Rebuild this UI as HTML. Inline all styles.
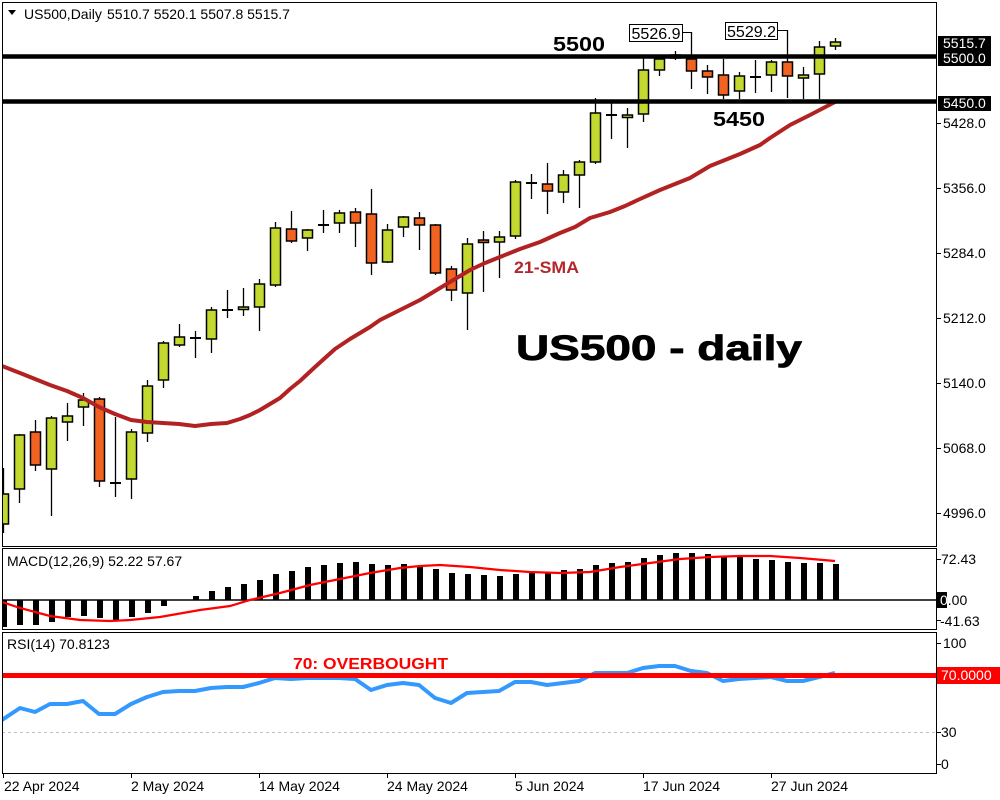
<!DOCTYPE html>
<html><head><meta charset="utf-8"><style>
html,body{margin:0;padding:0;background:#fff;}
svg{display:block;}
text{font-family:"Liberation Sans",Arial,sans-serif;}
</style></head><body>
<svg width="1000" height="800" viewBox="0 0 1000 800" xmlns="http://www.w3.org/2000/svg">
<rect width="1000" height="800" fill="#fff"/>
<defs>
<clipPath id="mc"><rect x="3" y="3" width="933" height="543"/></clipPath>
<clipPath id="dc"><rect x="3" y="549" width="933" height="80"/></clipPath>
<clipPath id="rc"><rect x="3" y="633" width="933" height="140"/></clipPath>
</defs>

<!-- panels -->
<rect x="2.5" y="2.5" width="934" height="544" fill="none" stroke="#000" stroke-width="1"/>
<rect x="2.5" y="548.5" width="934" height="81" fill="none" stroke="#000" stroke-width="1"/>
<rect x="2.5" y="632.5" width="934" height="141" fill="none" stroke="#000" stroke-width="1"/>

<!-- header -->
<polygon points="8,10 16,10 12,15" fill="#000"/>
<text x="24" y="19" font-size="14">US500,Daily</text>
<text x="107" y="19" font-size="14">5510.7 5520.1 5507.8 5515.7</text>

<g clip-path="url(#mc)" stroke="#000">
<!-- wicks -->
<g stroke-width="1.3">
<line x1="3.5" y1="468" x2="3.5" y2="533"/>
<line x1="19.5" y1="434" x2="19.5" y2="503"/>
<line x1="35.5" y1="420" x2="35.5" y2="471"/>
<line x1="51.5" y1="416" x2="51.5" y2="516"/>
<line x1="67.5" y1="403" x2="67.5" y2="441"/>
<line x1="83.5" y1="393" x2="83.5" y2="426"/>
<line x1="99.5" y1="397" x2="99.5" y2="487"/>
<line x1="115.5" y1="417" x2="115.5" y2="497"/>
<line x1="131.5" y1="429" x2="131.5" y2="499"/>
<line x1="147.5" y1="380" x2="147.5" y2="442"/>
<line x1="163.5" y1="341" x2="163.5" y2="388"/>
<line x1="179.5" y1="324" x2="179.5" y2="347"/>
<line x1="195.5" y1="331" x2="195.5" y2="358"/>
<line x1="211.5" y1="307" x2="211.5" y2="353"/>
<line x1="227.5" y1="290" x2="227.5" y2="318"/>
<line x1="243.5" y1="288" x2="243.5" y2="316"/>
<line x1="259.5" y1="279" x2="259.5" y2="331"/>
<line x1="275.5" y1="222" x2="275.5" y2="287"/>
<line x1="291.5" y1="211" x2="291.5" y2="243"/>
<line x1="307.5" y1="229" x2="307.5" y2="251"/>
<line x1="323.5" y1="210" x2="323.5" y2="233"/>
<line x1="339.5" y1="210" x2="339.5" y2="233"/>
<line x1="355.5" y1="208" x2="355.5" y2="247"/>
<line x1="371.5" y1="189" x2="371.5" y2="275"/>
<line x1="387.5" y1="224" x2="387.5" y2="263"/>
<line x1="403.5" y1="216" x2="403.5" y2="237"/>
<line x1="419.5" y1="212" x2="419.5" y2="250"/>
<line x1="435.5" y1="224" x2="435.5" y2="275"/>
<line x1="451.5" y1="266" x2="451.5" y2="301"/>
<line x1="467.5" y1="238" x2="467.5" y2="330"/>
<line x1="483.5" y1="231" x2="483.5" y2="292"/>
<line x1="499.5" y1="231" x2="499.5" y2="278"/>
<line x1="515.5" y1="180" x2="515.5" y2="239"/>
<line x1="531.5" y1="174" x2="531.5" y2="199"/>
<line x1="547.5" y1="163" x2="547.5" y2="214"/>
<line x1="563.5" y1="170" x2="563.5" y2="203"/>
<line x1="579.5" y1="160" x2="579.5" y2="208"/>
<line x1="595.5" y1="98" x2="595.5" y2="164"/>
<line x1="611.5" y1="103" x2="611.5" y2="139"/>
<line x1="627.5" y1="108" x2="627.5" y2="148"/>
<line x1="643.5" y1="57" x2="643.5" y2="122"/>
<line x1="659.5" y1="55" x2="659.5" y2="76"/>
<line x1="675.5" y1="51" x2="675.5" y2="60"/>
<line x1="691.5" y1="32" x2="691.5" y2="89"/>
<line x1="707.5" y1="65" x2="707.5" y2="94"/>
<line x1="723.5" y1="59" x2="723.5" y2="99"/>
<line x1="739.5" y1="72" x2="739.5" y2="99"/>
<line x1="755.5" y1="60" x2="755.5" y2="93"/>
<line x1="771.5" y1="60" x2="771.5" y2="92"/>
<line x1="787.5" y1="30" x2="787.5" y2="98"/>
<line x1="803.5" y1="67" x2="803.5" y2="99"/>
<line x1="819.5" y1="41" x2="819.5" y2="99"/>
<line x1="835.5" y1="38" x2="835.5" y2="50"/>
</g>
<!-- bodies -->
<g stroke-width="1.5">
<rect x="-1.5" y="494" width="10" height="30" fill="#c3d92f"/>
<rect x="14.5" y="435" width="10" height="54" fill="#c3d92f"/>
<rect x="30.5" y="432" width="10" height="33" fill="#f26322"/>
<rect x="46.5" y="418" width="10" height="51" fill="#c3d92f"/>
<rect x="62.5" y="416" width="10" height="6" fill="#c3d92f"/>
<rect x="78.5" y="400" width="10" height="7" fill="#c3d92f"/>
<rect x="94.5" y="399" width="10" height="82" fill="#f26322"/>
<rect x="126.5" y="432" width="10" height="47" fill="#c3d92f"/>
<rect x="142.5" y="386" width="10" height="47" fill="#c3d92f"/>
<rect x="158.5" y="343" width="10" height="37" fill="#c3d92f"/>
<rect x="174.5" y="337" width="10" height="8" fill="#c3d92f"/>
<rect x="206.5" y="310" width="10" height="29" fill="#c3d92f"/>
<rect x="238.5" y="307" width="10" height="2.5" fill="#c3d92f"/>
<rect x="254.5" y="284" width="10" height="23" fill="#c3d92f"/>
<rect x="270.5" y="228" width="10" height="57" fill="#c3d92f"/>
<rect x="286.5" y="229" width="10" height="12" fill="#f26322"/>
<rect x="302.5" y="230" width="10" height="8" fill="#c3d92f"/>
<rect x="334.5" y="213" width="10" height="10" fill="#c3d92f"/>
<rect x="350.5" y="212" width="10" height="11" fill="#f26322"/>
<rect x="366.5" y="214" width="10" height="49" fill="#f26322"/>
<rect x="382.5" y="230" width="10" height="32" fill="#c3d92f"/>
<rect x="398.5" y="217" width="10" height="10" fill="#c3d92f"/>
<rect x="414.5" y="218" width="10" height="7" fill="#f26322"/>
<rect x="430.5" y="225" width="10" height="48" fill="#f26322"/>
<rect x="446.5" y="269" width="10" height="21" fill="#f26322"/>
<rect x="462.5" y="244" width="10" height="49" fill="#c3d92f"/>
<rect x="478.5" y="240" width="10" height="2.5" fill="#f26322"/>
<rect x="494.5" y="237" width="10" height="5" fill="#c3d92f"/>
<rect x="510.5" y="182" width="10" height="54" fill="#c3d92f"/>
<rect x="542.5" y="184" width="10" height="7" fill="#f26322"/>
<rect x="558.5" y="175" width="10" height="17" fill="#c3d92f"/>
<rect x="574.5" y="162" width="10" height="13" fill="#c3d92f"/>
<rect x="590.5" y="113" width="10" height="49" fill="#c3d92f"/>
<rect x="622.5" y="115" width="10" height="2.5" fill="#c3d92f"/>
<rect x="638.5" y="70" width="10" height="44" fill="#c3d92f"/>
<rect x="654.5" y="59" width="10" height="11" fill="#c3d92f"/>
<rect x="670.5" y="55" width="10" height="3" fill="#c3d92f"/>
<rect x="686.5" y="59" width="10" height="12" fill="#f26322"/>
<rect x="702.5" y="71" width="10" height="6" fill="#f26322"/>
<rect x="718.5" y="75" width="10" height="20" fill="#f26322"/>
<rect x="734.5" y="76" width="10" height="15" fill="#c3d92f"/>
<rect x="766.5" y="62" width="10" height="13" fill="#c3d92f"/>
<rect x="782.5" y="62" width="10" height="14" fill="#f26322"/>
<rect x="798.5" y="75" width="10" height="3" fill="#c3d92f"/>
<rect x="814.5" y="47" width="10" height="27" fill="#c3d92f"/>
<rect x="830.5" y="42" width="10" height="4" fill="#c3d92f"/>
</g>
<!-- dojis -->
<g stroke-width="2">
<line x1="110" y1="483" x2="121" y2="483"/>
<line x1="190" y1="338" x2="201" y2="338"/>
<line x1="222" y1="310" x2="233" y2="310"/>
<line x1="318" y1="225" x2="329" y2="225"/>
<line x1="526" y1="183" x2="537" y2="183"/>
<line x1="606" y1="115" x2="617" y2="115"/>
<line x1="750" y1="77" x2="761" y2="77"/>
</g>
<!-- SMA -->
<polyline fill="none" stroke="#b22222" stroke-width="4" stroke-linejoin="round" points="2,366 20,373 35,379 50,385 67,391 83,398 99,407 115,414 131,420 147,422 163,423 179,424 195,426 211,424 227,423 240,419 250,415 260,410 270,404 280,398 290,389 300,381 315,367 335,349 350,339 370,327 380,320 400,310 420,300 450,282 470,270 485,263 500,257 520,249 540,242 560,233 575,227 590,218 610,212 625,206 640,199 660,190 690,178 710,166 740,154 760,145 770,138 790,125 810,115 835,102"/>
<!-- horizontal levels -->
<line x1="2" y1="56.5" x2="936" y2="56.5" stroke-width="4.5"/>
<line x1="2" y1="101.5" x2="936" y2="101.5" stroke-width="4.5"/>
</g>

<!-- high labels -->
<rect x="629.5" y="24.5" width="53" height="17" fill="#fff" stroke="#000" stroke-width="1"/>
<text x="631.5" y="39" font-size="16" textLength="49" lengthAdjust="spacingAndGlyphs">5526.9</text>
<polyline points="682.5,32.5 691.5,32.5 691.5,58" fill="none" stroke="#000" stroke-width="1"/>
<rect x="725.5" y="22.5" width="52" height="17" fill="#fff" stroke="#000" stroke-width="1"/>
<text x="727" y="37" font-size="16" textLength="49" lengthAdjust="spacingAndGlyphs">5529.2</text>
<polyline points="777.5,30.5 787.5,30.5 787.5,60" fill="none" stroke="#000" stroke-width="1"/>

<!-- annotation texts -->
<text x="553" y="51" font-size="20" font-weight="bold" textLength="52" lengthAdjust="spacingAndGlyphs">5500</text>
<text x="713" y="126" font-size="20" font-weight="bold" textLength="52" lengthAdjust="spacingAndGlyphs">5450</text>
<text x="514" y="273" font-size="17" font-weight="bold" fill="#b5262b" textLength="65" lengthAdjust="spacingAndGlyphs">21-SMA</text>
<text x="516" y="360" font-size="35" font-weight="bold" stroke="#000" stroke-width="0.8" textLength="286" lengthAdjust="spacingAndGlyphs">US500 - daily</text>

<!-- right axis main -->
<g stroke="#000" stroke-width="1">
<line x1="936" y1="123.5" x2="941" y2="123.5"/>
<line x1="936" y1="188.5" x2="941" y2="188.5"/>
<line x1="936" y1="253.5" x2="941" y2="253.5"/>
<line x1="936" y1="318.5" x2="941" y2="318.5"/>
<line x1="936" y1="383.5" x2="941" y2="383.5"/>
<line x1="936" y1="448.5" x2="941" y2="448.5"/>
<line x1="936" y1="513.5" x2="941" y2="513.5"/>
</g>
<g font-size="14">
<text x="943" y="128">5428.0</text>
<text x="943" y="193">5356.0</text>
<text x="943" y="258">5284.0</text>
<text x="943" y="323">5212.0</text>
<text x="943" y="388">5140.0</text>
<text x="943" y="453">5068.0</text>
<text x="943" y="518">4996.0</text>
</g>
<rect x="938" y="36" width="53" height="14" fill="#000"/>
<rect x="938" y="50" width="53" height="16" fill="#000"/>
<rect x="938" y="96" width="53" height="15" fill="#000"/>
<g font-size="14" fill="#fff">
<text x="943" y="48">5515.7</text>
<text x="943" y="63">5500.0</text>
<text x="943" y="108">5450.0</text>
</g>

<!-- MACD -->
<text x="7" y="566" font-size="14">MACD(12,26,9) 52.22 57.67</text>
<g clip-path="url(#dc)" fill="#000">
<rect x="1" y="600" width="6" height="27"/>
<rect x="17" y="600" width="6" height="25"/>
<rect x="33" y="600" width="6" height="25"/>
<rect x="49" y="600" width="6" height="22"/>
<rect x="65" y="600" width="6" height="17"/>
<rect x="81" y="600" width="6" height="16"/>
<rect x="97" y="600" width="6" height="18"/>
<rect x="113" y="600" width="6" height="20"/>
<rect x="129" y="600" width="6" height="17"/>
<rect x="145" y="600" width="6" height="13"/>
<rect x="161" y="600" width="6" height="6"/>
<rect x="193" y="596" width="6" height="4"/>
<rect x="209" y="591" width="6" height="9"/>
<rect x="225" y="587" width="6" height="13"/>
<rect x="241" y="584" width="6" height="16"/>
<rect x="257" y="580" width="6" height="20"/>
<rect x="273" y="574" width="6" height="26"/>
<rect x="289" y="571" width="6" height="29"/>
<rect x="305" y="567" width="6" height="33"/>
<rect x="321" y="565" width="6" height="35"/>
<rect x="337" y="563" width="6" height="37"/>
<rect x="353" y="562" width="6" height="38"/>
<rect x="369" y="564" width="6" height="36"/>
<rect x="385" y="565" width="6" height="35"/>
<rect x="401" y="564" width="6" height="36"/>
<rect x="417" y="566" width="6" height="34"/>
<rect x="433" y="569" width="6" height="31"/>
<rect x="449" y="573" width="6" height="27"/>
<rect x="465" y="574" width="6" height="26"/>
<rect x="481" y="575" width="6" height="25"/>
<rect x="497" y="576" width="6" height="24"/>
<rect x="513" y="574" width="6" height="26"/>
<rect x="529" y="572" width="6" height="28"/>
<rect x="545" y="573" width="6" height="27"/>
<rect x="561" y="570" width="6" height="30"/>
<rect x="577" y="569" width="6" height="31"/>
<rect x="593" y="565" width="6" height="35"/>
<rect x="609" y="563" width="6" height="37"/>
<rect x="625" y="562" width="6" height="38"/>
<rect x="641" y="558" width="6" height="42"/>
<rect x="657" y="555" width="6" height="45"/>
<rect x="673" y="553" width="6" height="47"/>
<rect x="689" y="553" width="6" height="47"/>
<rect x="705" y="554" width="6" height="46"/>
<rect x="721" y="556" width="6" height="44"/>
<rect x="737" y="557" width="6" height="43"/>
<rect x="753" y="559" width="6" height="41"/>
<rect x="769" y="560" width="6" height="40"/>
<rect x="785" y="562" width="6" height="38"/>
<rect x="801" y="563" width="6" height="37"/>
<rect x="817" y="563" width="6" height="37"/>
<rect x="833" y="564" width="6" height="36"/>
<line x1="2" y1="600" x2="936" y2="600" stroke="#000" stroke-width="1.6"/>
<polyline fill="none" stroke="#ff0000" stroke-width="2.2" points="2,602 20,608 50,616 80,620 110,621 130,620 160,617 200,610 230,606 250,600 280,593 310,585 340,579 370,573 400,568 420,566 440,565 470,567 500,570 530,572 560,573 590,572 620,567 650,563 680,559 710,557 740,556 770,556 800,558 835,561"/>
</g>
<g stroke="#000" stroke-width="1">
<line x1="936" y1="559.5" x2="941" y2="559.5"/>
<line x1="936" y1="620.5" x2="941" y2="620.5"/>
</g>
<g font-size="14">
<text x="941" y="564">72.43</text>
<text x="940" y="605">0.00</text>
<text x="940" y="626">-41.63</text>
</g>
<rect x="937" y="592" width="10" height="16" fill="#000"/>
<text x="940" y="605" font-size="14" fill="#fff">0</text>

<!-- RSI -->
<text x="7" y="649" font-size="14">RSI(14) 70.8123</text>
<g clip-path="url(#rc)">
<line x1="2" y1="732.5" x2="936" y2="732.5" stroke="#c0c0c0" stroke-width="1" stroke-dasharray="3,3"/>
<polyline fill="none" stroke="#3399ff" stroke-width="4" stroke-linejoin="round" points="2,720 20,708 35,712 50,704 67,704 83,701 99,714 115,714 131,704 147,697 163,692 179,691 195,691 211,688 227,687 243,687 259,683 275,678 291,679 307,678 323,678 339,678 355,679 371,690 387,685 403,683 419,685 435,698 451,703 467,693 483,692 499,691 515,682 531,682 547,685 563,683 579,681 595,673 611,673 627,673 643,668 659,666 675,666 691,671 707,673 723,681 739,679 755,678 771,677 787,681 803,681 819,677 835,673"/>
<line x1="2" y1="675.5" x2="936" y2="675.5" stroke="#ff0000" stroke-width="5"/>
</g>
<text x="293" y="669" font-size="16" font-weight="bold" fill="#ff0000" textLength="155" lengthAdjust="spacingAndGlyphs">70: OVERBOUGHT</text>
<g stroke="#000" stroke-width="1">
<line x1="936" y1="643.5" x2="941" y2="643.5"/>
<line x1="936" y1="732.5" x2="941" y2="732.5"/>
<line x1="936" y1="764.5" x2="941" y2="764.5"/>
</g>
<g font-size="14">
<text x="943" y="648">100</text>
<text x="941" y="737">30</text>
<text x="941" y="769">0</text>
</g>
<rect x="937" y="667" width="63" height="17" fill="#ff0000"/>
<text x="941" y="680" font-size="14" fill="#fff">70.0000</text>

<!-- x axis -->
<g stroke="#000" stroke-width="1">
<line x1="3.5" y1="773" x2="3.5" y2="778"/>
<line x1="131.5" y1="773" x2="131.5" y2="778"/>
<line x1="259.5" y1="773" x2="259.5" y2="778"/>
<line x1="387.5" y1="773" x2="387.5" y2="778"/>
<line x1="515.5" y1="773" x2="515.5" y2="778"/>
<line x1="643.5" y1="773" x2="643.5" y2="778"/>
<line x1="771.5" y1="773" x2="771.5" y2="778"/>
</g>
<g font-size="14">
<text x="4" y="791">22 Apr 2024</text>
<text x="131" y="791">2 May 2024</text>
<text x="259" y="791">14 May 2024</text>
<text x="387" y="791">24 May 2024</text>
<text x="515" y="791">5 Jun 2024</text>
<text x="643" y="791">17 Jun 2024</text>
<text x="771" y="791">27 Jun 2024</text>
</g>
</svg>
</body></html>
